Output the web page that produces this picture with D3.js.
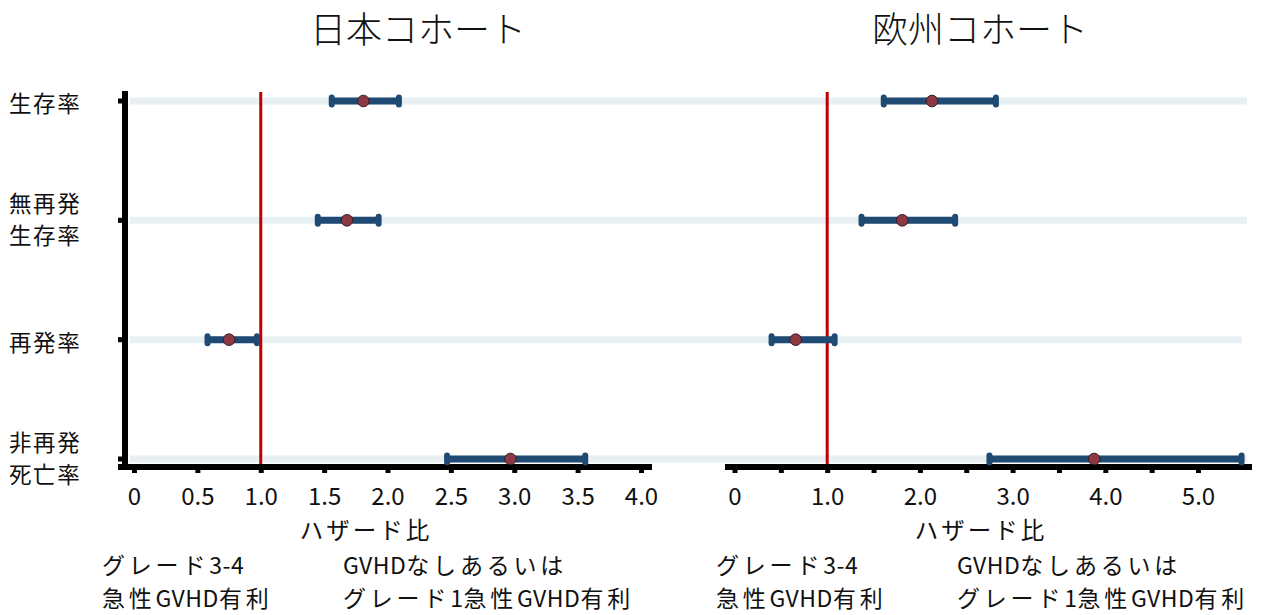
<!DOCTYPE html>
<html>
<head>
<meta charset="utf-8">
<script src="https://cdn.jsdelivr.net/npm/d3@7"></script>
<style>
  body { margin: 0; background: #fff; }
  svg text { font-family: "Noto Sans CJK JP", "Noto Sans", sans-serif; fill: #111; }
</style>
</head>
<body>
<svg id="chart" width="1277" height="615"></svg>
<script>
// rows (top to bottom)
const rowKeys = ['os', 'rfs', 'rel', 'nrm'];
const rowLabels = [['生存率'], ['無再発', '生存率'], ['再発率'], ['非再発', '死亡率']];

// Japan cohort: hazard ratio and 95% CI
const jpHR   = [1.81, 1.68, 0.75, 2.97];
const jpLow  = [1.56, 1.45, 0.58, 2.47];
const jpHigh = [2.09, 1.93, 0.97, 3.56];

// Europe cohort
const euHR   = [2.13, 1.81, 0.66, 3.88];
const euLow  = [1.61, 1.37, 0.40, 2.75];
const euHigh = [2.82, 2.38, 1.08, 5.47];

const jpTicks = [0, 0.5, 1, 1.5, 2, 2.5, 3, 3.5, 4];
const euMinorTicks = [0, 0.5, 1, 1.5, 2, 2.5, 3, 3.5, 4, 4.5, 5];
const euLabelTicks = [0, 1, 2, 3, 4, 5];
const bandEnds = [1247, 1247, 1242, 1247];
const footLines = [['グレード3-4', '急性GVHD有利'], ['GVHDなしあるいは', 'グレード1急性GVHD有利']];

const svg = d3.select('#chart');
const fmt = d => d === 0 ? '0' : d.toFixed(1);

// write a string as runs: wide spacing for kana/kanji, none for latin
function mixedText(sel, str, cjkSpacing) {
  const runs = str.match(/[\x00-\x7f]+|[^\x00-\x7f]+/g) || [];
  runs.forEach(r => {
    const latin = /^[\x00-\x7f]/.test(r);
    sel.append('tspan')
      .attr('letter-spacing', latin ? 0.5 : cjkSpacing)
      .text(r);
  });
}

const y = d3.scalePoint().domain(rowKeys).range([101, 459]);
const axisY = 467;

const panels = [
  { title: '日本コホート', cx: 418, x: d3.scaleLinear().domain([0, 4]).range([134, 641]),
    axisRange: [118, 652], hr: jpHR, lo: jpLow, hi: jpHigh, xlabelX: 366,
    minor: jpTicks, labels: jpTicks, footX: [102, 343], yAxis: true },
  { title: '欧州コホート', cx: 980, x: d3.scaleLinear().domain([0, 5]).range([734.5, 1198]),
    axisRange: [725, 1252], hr: euHR, lo: euLow, hi: euHigh, xlabelX: 981,
    minor: euMinorTicks, labels: euLabelTicks, footX: [716, 957], yAxis: false }
];

// background bands spanning both panels
svg.append('g').selectAll('line')
  .data(rowKeys)
  .join('line')
    .attr('x1', 130).attr('x2', (d, i) => bandEnds[i])
    .attr('y1', d => y(d)).attr('y2', d => y(d))
    .attr('stroke', '#e9f0f3').attr('stroke-width', 7);

// row labels
rowKeys.forEach((k, i) => {
  const lines = rowLabels[i];
  const lh = 32;
  const y0 = y(k) - (lines.length - 1) * lh / 2 - (lines.length > 1 ? 3 : 0) + 3;
  lines.forEach((s, j) => {
    svg.append('text')
      .attr('x', 9).attr('y', y0 + j * lh).attr('dy', '0.36em')
      .attr('font-size', 22.5).attr('letter-spacing', 1.6)
      .text(s);
  });
});

panels.forEach(p => {
  const g = svg.append('g');

  g.append('text')
    .attr('x', p.cx).attr('y', 30).attr('dy', '0.36em')
    .attr('text-anchor', 'middle').attr('font-size', 36).attr('font-weight', 300)
    .text(p.title);

  // reference line at HR = 1
  g.append('line')
    .attr('x1', p.x(1)).attr('x2', p.x(1))
    .attr('y1', 92).attr('y2', axisY)
    .attr('stroke', '#c00000').attr('stroke-width', 3);

  // bottom axis: minor ticks
  const minorAxis = d3.axisBottom(p.x).tickValues(p.minor).tickSize(6).tickFormat('');
  const ga = g.append('g').attr('transform', `translate(0,${axisY})`).call(minorAxis);
  ga.select('.domain').remove();
  ga.selectAll('.tick line').attr('stroke', '#000').attr('stroke-width', 5);

  g.append('line')
    .attr('x1', p.axisRange[0]).attr('x2', p.axisRange[1])
    .attr('y1', axisY).attr('y2', axisY)
    .attr('stroke', '#000').attr('stroke-width', 6);

  // tick labels
  const labelAxis = d3.axisBottom(p.x).tickValues(p.labels).tickSize(0).tickPadding(21).tickFormat(fmt);
  const gl = g.append('g').attr('transform', `translate(0,${axisY})`).call(labelAxis);
  gl.select('.domain').remove();
  gl.selectAll('text').attr('font-size', 24).attr('fill', '#111')
    .attr('font-family', '"Noto Sans CJK JP", "Noto Sans", sans-serif');

  g.append('text')
    .attr('x', p.xlabelX).attr('y', 531).attr('dy', '0.36em')
    .attr('text-anchor', 'middle').attr('font-size', 23.5).attr('letter-spacing', 3)
    .text('ハザード比');

  // footer annotations
  footLines.forEach((lines, i) => {
    lines.forEach((s, j) => {
      const t = g.append('text')
        .attr('x', p.footX[i]).attr('y', 566 + j * 33).attr('dy', '0.36em')
        .attr('font-size', 23);
      mixedText(t, s, 3.8);
    });
  });

  // CI bars
  const rows = rowKeys.map((k, i) => ({ k, hr: p.hr[i], lo: p.lo[i], hi: p.hi[i] }));
  g.append('g').selectAll('line')
    .data(rows)
    .join('line')
      .attr('x1', d => p.x(d.lo)).attr('x2', d => p.x(d.hi))
      .attr('y1', d => y(d.k)).attr('y2', d => y(d.k))
      .attr('stroke', '#1f4a73').attr('stroke-width', 7);

  const caps = rows.flatMap(d => [{ k: d.k, v: d.lo }, { k: d.k, v: d.hi }]);
  g.append('g').selectAll('rect')
    .data(caps)
    .join('rect')
      .attr('x', d => p.x(d.v) - 3).attr('y', d => y(d.k) - 6.5)
      .attr('width', 6).attr('height', 13).attr('rx', 3)
      .attr('fill', '#1f4a73');

  g.append('g').selectAll('circle')
    .data(rows)
    .join('circle')
      .attr('cx', d => p.x(d.hr)).attr('cy', d => y(d.k))
      .attr('r', 5.8)
      .attr('fill', '#8b3a44').attr('stroke', '#3a1a1f').attr('stroke-width', 1);

  // left y axis only for the first panel
  if (p.yAxis) {
    g.append('line')
      .attr('x1', 125).attr('x2', 125).attr('y1', 91).attr('y2', axisY + 3)
      .attr('stroke', '#000').attr('stroke-width', 6);
    g.append('g').selectAll('line')
      .data(rowKeys)
      .join('line')
        .attr('x1', 118).attr('x2', 125)
        .attr('y1', d => y(d)).attr('y2', d => y(d))
        .attr('stroke', '#000').attr('stroke-width', 5);
  }
});
</script>
</body>
</html>
